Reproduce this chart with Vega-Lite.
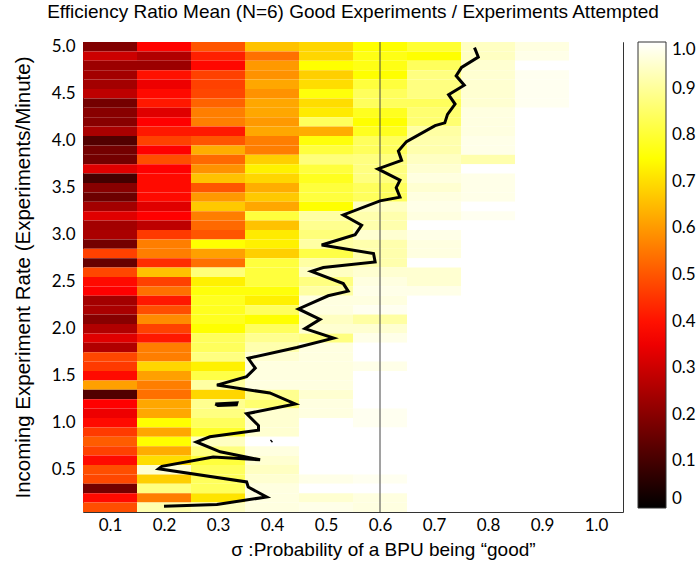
{
"$schema": "https://vega.github.io/schema/vega-lite/v6.json",
"width": 540, "height": 470,
"autosize": {"type": "none"},
"padding": {"left": 83, "top": 42, "right": 73, "bottom": 57},
"background": "white",
"title": {"text": "Efficiency Ratio Mean (N=6) Good Experiments / Experiments Attempted", "font": "Liberation Sans", "fontSize": 19, "fontWeight": "normal", "color": "black", "anchor": "middle", "baseline": "alphabetic", "offset": 1},
"config": {
 "view": {"stroke": "#333", "strokeWidth": 1},
 "axis": {"labelFont": "Lato", "labelFontSize": 17, "labelColor": "black", "titleFont": "Liberation Sans", "titleFontSize": 19, "titleFontWeight": "normal", "titleColor": "black", "tickColor": "#333", "domain": false, "grid": false, "tickSize": -5}
},
"datasets": {
"grid": [
{"p":0.1,"rate":5,"ratio":0.19},{"p":0.2,"rate":5,"ratio":0.38},{"p":0.3,"rate":5,"ratio":0.5},{"p":0.4,"rate":5,"ratio":0.66},{"p":0.5,"rate":5,"ratio":0.69},{"p":0.6,"rate":5,"ratio":0.75},{"p":0.7,"rate":5,"ratio":0.8},{"p":0.8,"rate":5,"ratio":0.94},{"p":0.9,"rate":5,"ratio":0.97},{"p":1,"rate":5,"ratio":1},
{"p":0.1,"rate":4.9,"ratio":0.3},{"p":0.2,"rate":4.9,"ratio":0.26},{"p":0.3,"rate":4.9,"ratio":0.42},{"p":0.4,"rate":4.9,"ratio":0.54},{"p":0.5,"rate":4.9,"ratio":0.69},{"p":0.6,"rate":4.9,"ratio":0.77},{"p":0.7,"rate":4.9,"ratio":0.75},{"p":0.8,"rate":4.9,"ratio":0.94},{"p":0.9,"rate":4.9,"ratio":0.977},{"p":1,"rate":4.9,"ratio":1},
{"p":0.1,"rate":4.8,"ratio":0.23},{"p":0.2,"rate":4.8,"ratio":0.23},{"p":0.3,"rate":4.8,"ratio":0.385},{"p":0.4,"rate":4.8,"ratio":0.6},{"p":0.5,"rate":4.8,"ratio":0.75},{"p":0.6,"rate":4.8,"ratio":0.77},{"p":0.7,"rate":4.8,"ratio":0.84},{"p":0.8,"rate":4.8,"ratio":0.955},{"p":0.9,"rate":4.8,"ratio":1},{"p":1,"rate":4.8,"ratio":1},
{"p":0.1,"rate":4.7,"ratio":0.24},{"p":0.2,"rate":4.7,"ratio":0.4},{"p":0.3,"rate":4.7,"ratio":0.47},{"p":0.4,"rate":4.7,"ratio":0.59},{"p":0.5,"rate":4.7,"ratio":0.68},{"p":0.6,"rate":4.7,"ratio":0.75},{"p":0.7,"rate":4.7,"ratio":0.875},{"p":0.8,"rate":4.7,"ratio":0.955},{"p":0.9,"rate":4.7,"ratio":0.985},{"p":1,"rate":4.7,"ratio":1},
{"p":0.1,"rate":4.6,"ratio":0.24},{"p":0.2,"rate":4.6,"ratio":0.35},{"p":0.3,"rate":4.6,"ratio":0.47},{"p":0.4,"rate":4.6,"ratio":0.62},{"p":0.5,"rate":4.6,"ratio":0.7},{"p":0.6,"rate":4.6,"ratio":0.81},{"p":0.7,"rate":4.6,"ratio":0.875},{"p":0.8,"rate":4.6,"ratio":0.955},{"p":0.9,"rate":4.6,"ratio":0.985},{"p":1,"rate":4.6,"ratio":1},
{"p":0.1,"rate":4.5,"ratio":0.28},{"p":0.2,"rate":4.5,"ratio":0.39},{"p":0.3,"rate":4.5,"ratio":0.48},{"p":0.4,"rate":4.5,"ratio":0.59},{"p":0.5,"rate":4.5,"ratio":0.76},{"p":0.6,"rate":4.5,"ratio":0.84},{"p":0.7,"rate":4.5,"ratio":0.875},{"p":0.8,"rate":4.5,"ratio":0.955},{"p":0.9,"rate":4.5,"ratio":0.985},{"p":1,"rate":4.5,"ratio":1},
{"p":0.1,"rate":4.4,"ratio":0.17},{"p":0.2,"rate":4.4,"ratio":0.41},{"p":0.3,"rate":4.4,"ratio":0.52},{"p":0.4,"rate":4.4,"ratio":0.62},{"p":0.5,"rate":4.4,"ratio":0.7},{"p":0.6,"rate":4.4,"ratio":0.84},{"p":0.7,"rate":4.4,"ratio":0.84},{"p":0.8,"rate":4.4,"ratio":0.955},{"p":0.9,"rate":4.4,"ratio":0.985},{"p":1,"rate":4.4,"ratio":1},
{"p":0.1,"rate":4.3,"ratio":0.2},{"p":0.2,"rate":4.3,"ratio":0.33},{"p":0.3,"rate":4.3,"ratio":0.56},{"p":0.4,"rate":4.3,"ratio":0.62},{"p":0.5,"rate":4.3,"ratio":0.72},{"p":0.6,"rate":4.3,"ratio":0.78},{"p":0.7,"rate":4.3,"ratio":0.86},{"p":0.8,"rate":4.3,"ratio":0.97},{"p":0.9,"rate":4.3,"ratio":1},{"p":1,"rate":4.3,"ratio":1},
{"p":0.1,"rate":4.2,"ratio":0.2},{"p":0.2,"rate":4.2,"ratio":0.375},{"p":0.3,"rate":4.2,"ratio":0.56},{"p":0.4,"rate":4.2,"ratio":0.6},{"p":0.5,"rate":4.2,"ratio":0.84},{"p":0.6,"rate":4.2,"ratio":0.75},{"p":0.7,"rate":4.2,"ratio":0.86},{"p":0.8,"rate":4.2,"ratio":0.97},{"p":0.9,"rate":4.2,"ratio":1},{"p":1,"rate":4.2,"ratio":1},
{"p":0.1,"rate":4.1,"ratio":0.25},{"p":0.2,"rate":4.1,"ratio":0.41},{"p":0.3,"rate":4.1,"ratio":0.41},{"p":0.4,"rate":4.1,"ratio":0.62},{"p":0.5,"rate":4.1,"ratio":0.63},{"p":0.6,"rate":4.1,"ratio":0.78},{"p":0.7,"rate":4.1,"ratio":0.91},{"p":0.8,"rate":4.1,"ratio":0.97},{"p":0.9,"rate":4.1,"ratio":1},{"p":1,"rate":4.1,"ratio":1},
{"p":0.1,"rate":4,"ratio":0.12},{"p":0.2,"rate":4,"ratio":0.47},{"p":0.3,"rate":4,"ratio":0.5},{"p":0.4,"rate":4,"ratio":0.56},{"p":0.5,"rate":4,"ratio":0.76},{"p":0.6,"rate":4,"ratio":0.84},{"p":0.7,"rate":4,"ratio":0.92},{"p":0.8,"rate":4,"ratio":0.977},{"p":0.9,"rate":4,"ratio":1},{"p":1,"rate":4,"ratio":1},
{"p":0.1,"rate":3.9,"ratio":0.17},{"p":0.2,"rate":3.9,"ratio":0.375},{"p":0.3,"rate":3.9,"ratio":0.63},{"p":0.4,"rate":3.9,"ratio":0.56},{"p":0.5,"rate":3.9,"ratio":0.81},{"p":0.6,"rate":3.9,"ratio":0.84},{"p":0.7,"rate":3.9,"ratio":0.92},{"p":0.8,"rate":3.9,"ratio":0.977},{"p":0.9,"rate":3.9,"ratio":1},{"p":1,"rate":3.9,"ratio":1},
{"p":0.1,"rate":3.8,"ratio":0.17},{"p":0.2,"rate":3.8,"ratio":0.49},{"p":0.3,"rate":3.8,"ratio":0.53},{"p":0.4,"rate":3.8,"ratio":0.68},{"p":0.5,"rate":3.8,"ratio":0.87},{"p":0.6,"rate":3.8,"ratio":0.875},{"p":0.7,"rate":3.8,"ratio":0.94},{"p":0.8,"rate":3.8,"ratio":0.92},{"p":0.9,"rate":3.8,"ratio":1},{"p":1,"rate":3.8,"ratio":1},
{"p":0.1,"rate":3.7,"ratio":0.33},{"p":0.2,"rate":3.7,"ratio":0.375},{"p":0.3,"rate":3.7,"ratio":0.59},{"p":0.4,"rate":3.7,"ratio":0.73},{"p":0.5,"rate":3.7,"ratio":0.81},{"p":0.6,"rate":3.7,"ratio":0.875},{"p":0.7,"rate":3.7,"ratio":0.955},{"p":0.8,"rate":3.7,"ratio":1},{"p":0.9,"rate":3.7,"ratio":1},{"p":1,"rate":3.7,"ratio":1},
{"p":0.1,"rate":3.6,"ratio":0.1},{"p":0.2,"rate":3.6,"ratio":0.39},{"p":0.3,"rate":3.6,"ratio":0.66},{"p":0.4,"rate":3.6,"ratio":0.69},{"p":0.5,"rate":3.6,"ratio":0.78},{"p":0.6,"rate":3.6,"ratio":0.875},{"p":0.7,"rate":3.6,"ratio":0.97},{"p":0.8,"rate":3.6,"ratio":0.977},{"p":0.9,"rate":3.6,"ratio":1},{"p":1,"rate":3.6,"ratio":1},
{"p":0.1,"rate":3.5,"ratio":0.2},{"p":0.2,"rate":3.5,"ratio":0.39},{"p":0.3,"rate":3.5,"ratio":0.5},{"p":0.4,"rate":3.5,"ratio":0.63},{"p":0.5,"rate":3.5,"ratio":0.81},{"p":0.6,"rate":3.5,"ratio":0.84},{"p":0.7,"rate":3.5,"ratio":0.955},{"p":0.8,"rate":3.5,"ratio":0.977},{"p":0.9,"rate":3.5,"ratio":1},{"p":1,"rate":3.5,"ratio":1},
{"p":0.1,"rate":3.4,"ratio":0.16},{"p":0.2,"rate":3.4,"ratio":0.39},{"p":0.3,"rate":3.4,"ratio":0.6},{"p":0.4,"rate":3.4,"ratio":0.67},{"p":0.5,"rate":3.4,"ratio":0.81},{"p":0.6,"rate":3.4,"ratio":0.84},{"p":0.7,"rate":3.4,"ratio":0.97},{"p":0.8,"rate":3.4,"ratio":0.977},{"p":0.9,"rate":3.4,"ratio":1},{"p":1,"rate":3.4,"ratio":1},
{"p":0.1,"rate":3.3,"ratio":0.24},{"p":0.2,"rate":3.3,"ratio":0.33},{"p":0.3,"rate":3.3,"ratio":0.67},{"p":0.4,"rate":3.3,"ratio":0.62},{"p":0.5,"rate":3.3,"ratio":0.75},{"p":0.6,"rate":3.3,"ratio":0.94},{"p":0.7,"rate":3.3,"ratio":0.977},{"p":0.8,"rate":3.3,"ratio":1},{"p":0.9,"rate":3.3,"ratio":1},{"p":1,"rate":3.3,"ratio":1},
{"p":0.1,"rate":3.2,"ratio":0.33},{"p":0.2,"rate":3.2,"ratio":0.375},{"p":0.3,"rate":3.2,"ratio":0.56},{"p":0.4,"rate":3.2,"ratio":0.81},{"p":0.5,"rate":3.2,"ratio":0.91},{"p":0.6,"rate":3.2,"ratio":0.92},{"p":0.7,"rate":3.2,"ratio":0.97},{"p":0.8,"rate":3.2,"ratio":0.985},{"p":0.9,"rate":3.2,"ratio":1},{"p":1,"rate":3.2,"ratio":1},
{"p":0.1,"rate":3.1,"ratio":0.24},{"p":0.2,"rate":3.1,"ratio":0.28},{"p":0.3,"rate":3.1,"ratio":0.53},{"p":0.4,"rate":3.1,"ratio":0.66},{"p":0.5,"rate":3.1,"ratio":0.89},{"p":0.6,"rate":3.1,"ratio":0.92},{"p":0.7,"rate":3.1,"ratio":1},{"p":0.8,"rate":3.1,"ratio":1},{"p":0.9,"rate":3.1,"ratio":1},{"p":1,"rate":3.1,"ratio":1},
{"p":0.1,"rate":3,"ratio":0.25},{"p":0.2,"rate":3,"ratio":0.46},{"p":0.3,"rate":3,"ratio":0.5},{"p":0.4,"rate":3,"ratio":0.72},{"p":0.5,"rate":3,"ratio":0.87},{"p":0.6,"rate":3,"ratio":0.955},{"p":0.7,"rate":3,"ratio":0.977},{"p":0.8,"rate":3,"ratio":1},{"p":0.9,"rate":3,"ratio":1},{"p":1,"rate":3,"ratio":1},
{"p":0.1,"rate":2.9,"ratio":0.17},{"p":0.2,"rate":2.9,"ratio":0.56},{"p":0.3,"rate":2.9,"ratio":0.75},{"p":0.4,"rate":2.9,"ratio":0.73},{"p":0.5,"rate":2.9,"ratio":0.91},{"p":0.6,"rate":2.9,"ratio":0.92},{"p":0.7,"rate":2.9,"ratio":0.97},{"p":0.8,"rate":2.9,"ratio":1},{"p":0.9,"rate":2.9,"ratio":1},{"p":1,"rate":2.9,"ratio":1},
{"p":0.1,"rate":2.8,"ratio":0.47},{"p":0.2,"rate":2.8,"ratio":0.56},{"p":0.3,"rate":2.8,"ratio":0.61},{"p":0.4,"rate":2.8,"ratio":0.68},{"p":0.5,"rate":2.8,"ratio":0.82},{"p":0.6,"rate":2.8,"ratio":0.92},{"p":0.7,"rate":2.8,"ratio":0.97},{"p":0.8,"rate":2.8,"ratio":1},{"p":0.9,"rate":2.8,"ratio":1},{"p":1,"rate":2.8,"ratio":1},
{"p":0.1,"rate":2.7,"ratio":0.15},{"p":0.2,"rate":2.7,"ratio":0.44},{"p":0.3,"rate":2.7,"ratio":0.54},{"p":0.4,"rate":2.7,"ratio":0.81},{"p":0.5,"rate":2.7,"ratio":0.91},{"p":0.6,"rate":2.7,"ratio":0.92},{"p":0.7,"rate":2.7,"ratio":1},{"p":0.8,"rate":2.7,"ratio":1},{"p":0.9,"rate":2.7,"ratio":1},{"p":1,"rate":2.7,"ratio":1},
{"p":0.1,"rate":2.6,"ratio":0.48},{"p":0.2,"rate":2.6,"ratio":0.66},{"p":0.3,"rate":2.6,"ratio":0.87},{"p":0.4,"rate":2.6,"ratio":0.81},{"p":0.5,"rate":2.6,"ratio":0.94},{"p":0.6,"rate":2.6,"ratio":0.955},{"p":0.7,"rate":2.6,"ratio":0.955},{"p":0.8,"rate":2.6,"ratio":1},{"p":0.9,"rate":2.6,"ratio":1},{"p":1,"rate":2.6,"ratio":1},
{"p":0.1,"rate":2.5,"ratio":0.39},{"p":0.2,"rate":2.5,"ratio":0.47},{"p":0.3,"rate":2.5,"ratio":0.73},{"p":0.4,"rate":2.5,"ratio":0.81},{"p":0.5,"rate":2.5,"ratio":0.875},{"p":0.6,"rate":2.5,"ratio":0.97},{"p":0.7,"rate":2.5,"ratio":0.955},{"p":0.8,"rate":2.5,"ratio":1},{"p":0.9,"rate":2.5,"ratio":1},{"p":1,"rate":2.5,"ratio":1},
{"p":0.1,"rate":2.4,"ratio":0.375},{"p":0.2,"rate":2.4,"ratio":0.54},{"p":0.3,"rate":2.4,"ratio":0.76},{"p":0.4,"rate":2.4,"ratio":0.76},{"p":0.5,"rate":2.4,"ratio":0.91},{"p":0.6,"rate":2.4,"ratio":0.977},{"p":0.7,"rate":2.4,"ratio":0.977},{"p":0.8,"rate":2.4,"ratio":1},{"p":0.9,"rate":2.4,"ratio":1},{"p":1,"rate":2.4,"ratio":1},
{"p":0.1,"rate":2.3,"ratio":0.24},{"p":0.2,"rate":2.3,"ratio":0.41},{"p":0.3,"rate":2.3,"ratio":0.78},{"p":0.4,"rate":2.3,"ratio":0.73},{"p":0.5,"rate":2.3,"ratio":0.97},{"p":0.6,"rate":2.3,"ratio":0.97},{"p":0.7,"rate":2.3,"ratio":1},{"p":0.8,"rate":2.3,"ratio":1},{"p":0.9,"rate":2.3,"ratio":1},{"p":1,"rate":2.3,"ratio":1},
{"p":0.1,"rate":2.2,"ratio":0.25},{"p":0.2,"rate":2.2,"ratio":0.49},{"p":0.3,"rate":2.2,"ratio":0.78},{"p":0.4,"rate":2.2,"ratio":0.84},{"p":0.5,"rate":2.2,"ratio":0.97},{"p":0.6,"rate":2.2,"ratio":0.985},{"p":0.7,"rate":2.2,"ratio":1},{"p":0.8,"rate":2.2,"ratio":1},{"p":0.9,"rate":2.2,"ratio":1},{"p":1,"rate":2.2,"ratio":1},
{"p":0.1,"rate":2.1,"ratio":0.2},{"p":0.2,"rate":2.1,"ratio":0.58},{"p":0.3,"rate":2.1,"ratio":0.78},{"p":0.4,"rate":2.1,"ratio":0.75},{"p":0.5,"rate":2.1,"ratio":0.94},{"p":0.6,"rate":2.1,"ratio":0.91},{"p":0.7,"rate":2.1,"ratio":1},{"p":0.8,"rate":2.1,"ratio":1},{"p":0.9,"rate":2.1,"ratio":1},{"p":1,"rate":2.1,"ratio":1},
{"p":0.1,"rate":2,"ratio":0.26},{"p":0.2,"rate":2,"ratio":0.47},{"p":0.3,"rate":2,"ratio":0.75},{"p":0.4,"rate":2,"ratio":0.84},{"p":0.5,"rate":2,"ratio":0.955},{"p":0.6,"rate":2,"ratio":0.955},{"p":0.7,"rate":2,"ratio":1},{"p":0.8,"rate":2,"ratio":1},{"p":0.9,"rate":2,"ratio":1},{"p":1,"rate":2,"ratio":1},
{"p":0.1,"rate":1.9,"ratio":0.33},{"p":0.2,"rate":1.9,"ratio":0.41},{"p":0.3,"rate":1.9,"ratio":0.84},{"p":0.4,"rate":1.9,"ratio":0.89},{"p":0.5,"rate":1.9,"ratio":0.875},{"p":0.6,"rate":1.9,"ratio":0.977},{"p":0.7,"rate":1.9,"ratio":1},{"p":0.8,"rate":1.9,"ratio":1},{"p":0.9,"rate":1.9,"ratio":1},{"p":1,"rate":1.9,"ratio":1},
{"p":0.1,"rate":1.8,"ratio":0.26},{"p":0.2,"rate":1.8,"ratio":0.56},{"p":0.3,"rate":1.8,"ratio":0.84},{"p":0.4,"rate":1.8,"ratio":0.92},{"p":0.5,"rate":1.8,"ratio":0.97},{"p":0.6,"rate":1.8,"ratio":1},{"p":0.7,"rate":1.8,"ratio":1},{"p":0.8,"rate":1.8,"ratio":1},{"p":0.9,"rate":1.8,"ratio":1},{"p":1,"rate":1.8,"ratio":1},
{"p":0.1,"rate":1.7,"ratio":0.48},{"p":0.2,"rate":1.7,"ratio":0.56},{"p":0.3,"rate":1.7,"ratio":0.875},{"p":0.4,"rate":1.7,"ratio":0.955},{"p":0.5,"rate":1.7,"ratio":0.97},{"p":0.6,"rate":1.7,"ratio":1},{"p":0.7,"rate":1.7,"ratio":1},{"p":0.8,"rate":1.7,"ratio":1},{"p":0.9,"rate":1.7,"ratio":1},{"p":1,"rate":1.7,"ratio":1},
{"p":0.1,"rate":1.6,"ratio":0.46},{"p":0.2,"rate":1.6,"ratio":0.69},{"p":0.3,"rate":1.6,"ratio":0.73},{"p":0.4,"rate":1.6,"ratio":0.97},{"p":0.5,"rate":1.6,"ratio":0.97},{"p":0.6,"rate":1.6,"ratio":0.977},{"p":0.7,"rate":1.6,"ratio":1},{"p":0.8,"rate":1.6,"ratio":1},{"p":0.9,"rate":1.6,"ratio":1},{"p":1,"rate":1.6,"ratio":1},
{"p":0.1,"rate":1.5,"ratio":0.39},{"p":0.2,"rate":1.5,"ratio":0.61},{"p":0.3,"rate":1.5,"ratio":0.82},{"p":0.4,"rate":1.5,"ratio":0.97},{"p":0.5,"rate":1.5,"ratio":0.97},{"p":0.6,"rate":1.5,"ratio":1},{"p":0.7,"rate":1.5,"ratio":1},{"p":0.8,"rate":1.5,"ratio":1},{"p":0.9,"rate":1.5,"ratio":1},{"p":1,"rate":1.5,"ratio":1},
{"p":0.1,"rate":1.4,"ratio":0.61},{"p":0.2,"rate":1.4,"ratio":0.56},{"p":0.3,"rate":1.4,"ratio":0.91},{"p":0.4,"rate":1.4,"ratio":0.97},{"p":0.5,"rate":1.4,"ratio":0.97},{"p":0.6,"rate":1.4,"ratio":1},{"p":0.7,"rate":1.4,"ratio":1},{"p":0.8,"rate":1.4,"ratio":1},{"p":0.9,"rate":1.4,"ratio":1},{"p":1,"rate":1.4,"ratio":1},
{"p":0.1,"rate":1.3,"ratio":0.12},{"p":0.2,"rate":1.3,"ratio":0.54},{"p":0.3,"rate":1.3,"ratio":0.69},{"p":0.4,"rate":1.3,"ratio":0.89},{"p":0.5,"rate":1.3,"ratio":0.955},{"p":0.6,"rate":1.3,"ratio":1},{"p":0.7,"rate":1.3,"ratio":1},{"p":0.8,"rate":1.3,"ratio":1},{"p":0.9,"rate":1.3,"ratio":1},{"p":1,"rate":1.3,"ratio":1},
{"p":0.1,"rate":1.2,"ratio":0.375},{"p":0.2,"rate":1.2,"ratio":0.62},{"p":0.3,"rate":1.2,"ratio":0.89},{"p":0.4,"rate":1.2,"ratio":0.86},{"p":0.5,"rate":1.2,"ratio":0.97},{"p":0.6,"rate":1.2,"ratio":1},{"p":0.7,"rate":1.2,"ratio":1},{"p":0.8,"rate":1.2,"ratio":1},{"p":0.9,"rate":1.2,"ratio":1},{"p":1,"rate":1.2,"ratio":1},
{"p":0.1,"rate":1.1,"ratio":0.35},{"p":0.2,"rate":1.1,"ratio":0.62},{"p":0.3,"rate":1.1,"ratio":0.875},{"p":0.4,"rate":1.1,"ratio":0.955},{"p":0.5,"rate":1.1,"ratio":0.97},{"p":0.6,"rate":1.1,"ratio":0.985},{"p":0.7,"rate":1.1,"ratio":1},{"p":0.8,"rate":1.1,"ratio":1},{"p":0.9,"rate":1.1,"ratio":1},{"p":1,"rate":1.1,"ratio":1},
{"p":0.1,"rate":1,"ratio":0.39},{"p":0.2,"rate":1,"ratio":0.75},{"p":0.3,"rate":1,"ratio":0.84},{"p":0.4,"rate":1,"ratio":0.955},{"p":0.5,"rate":1,"ratio":1},{"p":0.6,"rate":1,"ratio":0.985},{"p":0.7,"rate":1,"ratio":1},{"p":0.8,"rate":1,"ratio":1},{"p":0.9,"rate":1,"ratio":1},{"p":1,"rate":1,"ratio":1},
{"p":0.1,"rate":0.9,"ratio":0.46},{"p":0.2,"rate":0.9,"ratio":0.62},{"p":0.3,"rate":0.9,"ratio":0.79},{"p":0.4,"rate":0.9,"ratio":0.955},{"p":0.5,"rate":0.9,"ratio":1},{"p":0.6,"rate":0.9,"ratio":1},{"p":0.7,"rate":0.9,"ratio":1},{"p":0.8,"rate":0.9,"ratio":1},{"p":0.9,"rate":0.9,"ratio":1},{"p":1,"rate":0.9,"ratio":1},
{"p":0.1,"rate":0.8,"ratio":0.51},{"p":0.2,"rate":0.8,"ratio":0.75},{"p":0.3,"rate":0.8,"ratio":0.94},{"p":0.4,"rate":0.8,"ratio":1},{"p":0.5,"rate":0.8,"ratio":1},{"p":0.6,"rate":0.8,"ratio":1},{"p":0.7,"rate":0.8,"ratio":1},{"p":0.8,"rate":0.8,"ratio":1},{"p":0.9,"rate":0.8,"ratio":1},{"p":1,"rate":0.8,"ratio":1},
{"p":0.1,"rate":0.7,"ratio":0.47},{"p":0.2,"rate":0.7,"ratio":0.63},{"p":0.3,"rate":0.7,"ratio":0.875},{"p":0.4,"rate":0.7,"ratio":0.97},{"p":0.5,"rate":0.7,"ratio":1},{"p":0.6,"rate":0.7,"ratio":1},{"p":0.7,"rate":0.7,"ratio":1},{"p":0.8,"rate":0.7,"ratio":1},{"p":0.9,"rate":0.7,"ratio":1},{"p":1,"rate":0.7,"ratio":1},
{"p":0.1,"rate":0.6,"ratio":0.39},{"p":0.2,"rate":0.6,"ratio":0.7},{"p":0.3,"rate":0.6,"ratio":0.81},{"p":0.4,"rate":0.6,"ratio":0.955},{"p":0.5,"rate":0.6,"ratio":1},{"p":0.6,"rate":0.6,"ratio":1},{"p":0.7,"rate":0.6,"ratio":1},{"p":0.8,"rate":0.6,"ratio":1},{"p":0.9,"rate":0.6,"ratio":1},{"p":1,"rate":0.6,"ratio":1},
{"p":0.1,"rate":0.5,"ratio":0.49},{"p":0.2,"rate":0.5,"ratio":0.955},{"p":0.3,"rate":0.5,"ratio":0.84},{"p":0.4,"rate":0.5,"ratio":0.94},{"p":0.5,"rate":0.5,"ratio":1},{"p":0.6,"rate":0.5,"ratio":1},{"p":0.7,"rate":0.5,"ratio":1},{"p":0.8,"rate":0.5,"ratio":1},{"p":0.9,"rate":0.5,"ratio":1},{"p":1,"rate":0.5,"ratio":1},
{"p":0.1,"rate":0.4,"ratio":0.48},{"p":0.2,"rate":0.4,"ratio":0.68},{"p":0.3,"rate":0.4,"ratio":0.84},{"p":0.4,"rate":0.4,"ratio":0.955},{"p":0.5,"rate":0.4,"ratio":0.977},{"p":0.6,"rate":0.4,"ratio":0.985},{"p":0.7,"rate":0.4,"ratio":1},{"p":0.8,"rate":0.4,"ratio":1},{"p":0.9,"rate":0.4,"ratio":1},{"p":1,"rate":0.4,"ratio":1},
{"p":0.1,"rate":0.3,"ratio":0.17},{"p":0.2,"rate":0.3,"ratio":0.875},{"p":0.3,"rate":0.3,"ratio":0.84},{"p":0.4,"rate":0.3,"ratio":0.97},{"p":0.5,"rate":0.3,"ratio":1},{"p":0.6,"rate":0.3,"ratio":1},{"p":0.7,"rate":0.3,"ratio":1},{"p":0.8,"rate":0.3,"ratio":1},{"p":0.9,"rate":0.3,"ratio":1},{"p":1,"rate":0.3,"ratio":1},
{"p":0.1,"rate":0.2,"ratio":0.39},{"p":0.2,"rate":0.2,"ratio":0.56},{"p":0.3,"rate":0.2,"ratio":0.71},{"p":0.4,"rate":0.2,"ratio":0.97},{"p":0.5,"rate":0.2,"ratio":0.955},{"p":0.6,"rate":0.2,"ratio":0.97},{"p":0.7,"rate":0.2,"ratio":1},{"p":0.8,"rate":0.2,"ratio":1},{"p":0.9,"rate":0.2,"ratio":1},{"p":1,"rate":0.2,"ratio":1},
{"p":0.1,"rate":0.1,"ratio":0.49},{"p":0.2,"rate":0.1,"ratio":0.92},{"p":0.3,"rate":0.1,"ratio":0.94},{"p":0.4,"rate":0.1,"ratio":0.97},{"p":0.5,"rate":0.1,"ratio":0.977},{"p":0.6,"rate":0.1,"ratio":0.97},{"p":0.7,"rate":0.1,"ratio":1},{"p":0.8,"rate":0.1,"ratio":1},{"p":0.9,"rate":0.1,"ratio":1},{"p":1,"rate":0.1,"ratio":1}
],
"contour": [
{"seg":0,"k":0,"x":0.2,"y":0.11},{"seg":0,"k":1,"x":0.298,"y":0.13},{"seg":0,"k":2,"x":0.39,"y":0.21},{"seg":0,"k":3,"x":0.356,"y":0.316},{"seg":0,"k":4,"x":0.353,"y":0.37},{"seg":0,"k":5,"x":0.19,"y":0.51},{"seg":0,"k":6,"x":0.196,"y":0.536},{"seg":0,"k":7,"x":0.291,"y":0.635},{"seg":0,"k":8,"x":0.378,"y":0.606},{"seg":0,"k":9,"x":0.304,"y":0.69},{"seg":0,"k":10,"x":0.26,"y":0.795},{"seg":0,"k":11,"x":0.285,"y":0.85},{"seg":0,"k":12,"x":0.375,"y":0.92},{"seg":0,"k":13,"x":0.375,"y":0.97},{"seg":0,"k":14,"x":0.353,"y":1.095},{"seg":0,"k":15,"x":0.443,"y":1.2},{"seg":0,"k":16,"x":0.396,"y":1.316},{"seg":0,"k":17,"x":0.298,"y":1.4},{"seg":0,"k":18,"x":0.353,"y":1.49},{"seg":0,"k":19,"x":0.369,"y":1.58},{"seg":0,"k":20,"x":0.356,"y":1.685},{"seg":0,"k":21,"x":0.446,"y":1.8},{"seg":0,"k":22,"x":0.514,"y":1.9},{"seg":0,"k":23,"x":0.461,"y":2.0},{"seg":0,"k":24,"x":0.489,"y":2.1},{"seg":0,"k":25,"x":0.449,"y":2.21},{"seg":0,"k":26,"x":0.504,"y":2.35},{"seg":0,"k":27,"x":0.541,"y":2.4},{"seg":0,"k":28,"x":0.532,"y":2.48},{"seg":0,"k":29,"x":0.473,"y":2.61},{"seg":0,"k":30,"x":0.495,"y":2.65},{"seg":0,"k":31,"x":0.591,"y":2.71},{"seg":0,"k":32,"x":0.588,"y":2.8},{"seg":0,"k":33,"x":0.492,"y":2.89},{"seg":0,"k":34,"x":0.554,"y":3.0},{"seg":0,"k":35,"x":0.566,"y":3.1},{"seg":0,"k":36,"x":0.532,"y":3.21},{"seg":0,"k":37,"x":0.6,"y":3.36},{"seg":0,"k":38,"x":0.637,"y":3.4},{"seg":0,"k":39,"x":0.63,"y":3.5},{"seg":0,"k":40,"x":0.637,"y":3.58},{"seg":0,"k":41,"x":0.596,"y":3.7},{"seg":0,"k":42,"x":0.64,"y":3.79},{"seg":0,"k":43,"x":0.634,"y":3.89},{"seg":0,"k":44,"x":0.649,"y":3.99},{"seg":0,"k":45,"x":0.702,"y":4.16},{"seg":0,"k":46,"x":0.72,"y":4.19},{"seg":0,"k":47,"x":0.725,"y":4.28},{"seg":0,"k":48,"x":0.739,"y":4.39},{"seg":0,"k":49,"x":0.727,"y":4.49},{"seg":0,"k":50,"x":0.756,"y":4.59},{"seg":0,"k":51,"x":0.741,"y":4.69},{"seg":0,"k":52,"x":0.751,"y":4.78},{"seg":0,"k":53,"x":0.782,"y":4.89},{"seg":0,"k":54,"x":0.775,"y":4.99},
{"seg":1,"k":0,"x":0.295,"y":1.2},{"seg":1,"k":1,"x":0.335,"y":1.21},{"seg":1,"k":2,"x":0.334,"y":1.19},{"seg":1,"k":3,"x":0.3,"y":1.183},{"seg":1,"k":4,"x":0.295,"y":1.2},
{"seg":2,"k":0,"x":0.398,"y":0.8},{"seg":2,"k":1,"x":0.4,"y":0.81}
]
},
"layer": [
 {"data": {"name": "grid"}, "mark": {"type": "rect"},
  "encoding": {
   "x": {"field": "p", "type": "ordinal", "scale": {"paddingInner": 0, "paddingOuter": 0}, "axis": null},
   "y": {"field": "rate", "type": "ordinal", "sort": "descending", "scale": {"paddingInner": 0, "paddingOuter": 0}, "axis": null},
   "color": {"field": "ratio", "type": "quantitative",
     "scale": {"domain": [0, 0.375, 0.75, 1], "range": ["#000000", "#ff0000", "#ffff00", "#ffffff"], "interpolate": "rgb"},
     "legend": {"orient": "right", "offset": 14, "padding": 0, "title": null, "direction": "vertical", "gradientLength": 466, "gradientThickness": 28, "gradientStrokeColor": "#333", "gradientStrokeWidth": 1, "values": [0, 0.1, 0.2, 0.3, 0.4, 0.5, 0.6, 0.7, 0.8, 0.9, 1], "labelExpr": "datum.value == 0 ? '0' : format(datum.value, '.1f')", "labelFont": "Lato", "labelFontSize": 17, "labelColor": "black", "labelOffset": 6, "labelOverlap": false}}
  }},
 {"data": {"values": [{}]}, "mark": {"type": "rule", "color": "#444", "strokeWidth": 1},
  "encoding": {"x": {"datum": 0.6, "type": "quantitative", "scale": {"domain": [0.05, 1.05], "nice": false, "zero": false}, "axis": null}}},
 {"data": {"name": "contour"}, "mark": {"type": "line", "color": "black", "strokeWidth": 3},
  "encoding": {
   "x": {"field": "x", "type": "quantitative", "scale": {"domain": [0.05, 1.05], "nice": false, "zero": false},
     "axis": {"orient": "bottom", "values": [0.1, 0.2, 0.3, 0.4, 0.5, 0.6, 0.7, 0.8, 0.9, 1], "labelExpr": "format(datum.value, '.1f')", "labelPadding": 10, "title": "σ :Probability of a BPU being “good”", "titlePadding": 7, "titleX": 300}},
   "y": {"field": "y", "type": "quantitative", "scale": {"domain": [0.05, 5.05], "nice": false, "zero": false},
     "axis": {"orient": "left", "values": [0.5, 1, 1.5, 2, 2.5, 3, 3.5, 4, 4.5, 5], "labelExpr": "format(datum.value, '.1f')", "labelPadding": 13, "title": "Incoming Experiment Rate (Experiments/Minute)", "titleFontSize": 20.5, "titlePadding": 18}},
   "detail": {"field": "seg", "type": "nominal"},
   "order": {"field": "k", "type": "quantitative"}
  }},
 {"data": {"name": "contour"}, "mark": {"type": "point", "opacity": 0},
  "encoding": {
   "x": {"field": "x", "type": "quantitative", "scale": {"domain": [0.05, 1.05], "nice": false, "zero": false},
     "axis": {"orient": "top", "values": [0.1, 0.2, 0.3, 0.4, 0.5, 0.6, 0.7, 0.8, 0.9, 1], "labels": false, "title": null}},
   "y": {"field": "y", "type": "quantitative", "scale": {"domain": [0.05, 5.05], "nice": false, "zero": false},
     "axis": {"orient": "right", "values": [0.5, 1, 1.5, 2, 2.5, 3, 3.5, 4, 4.5, 5], "labels": false, "title": null}}
  }}
],
"resolve": {"scale": {"x": "independent", "y": "independent"}, "axis": {"x": "independent", "y": "independent"}}
}
